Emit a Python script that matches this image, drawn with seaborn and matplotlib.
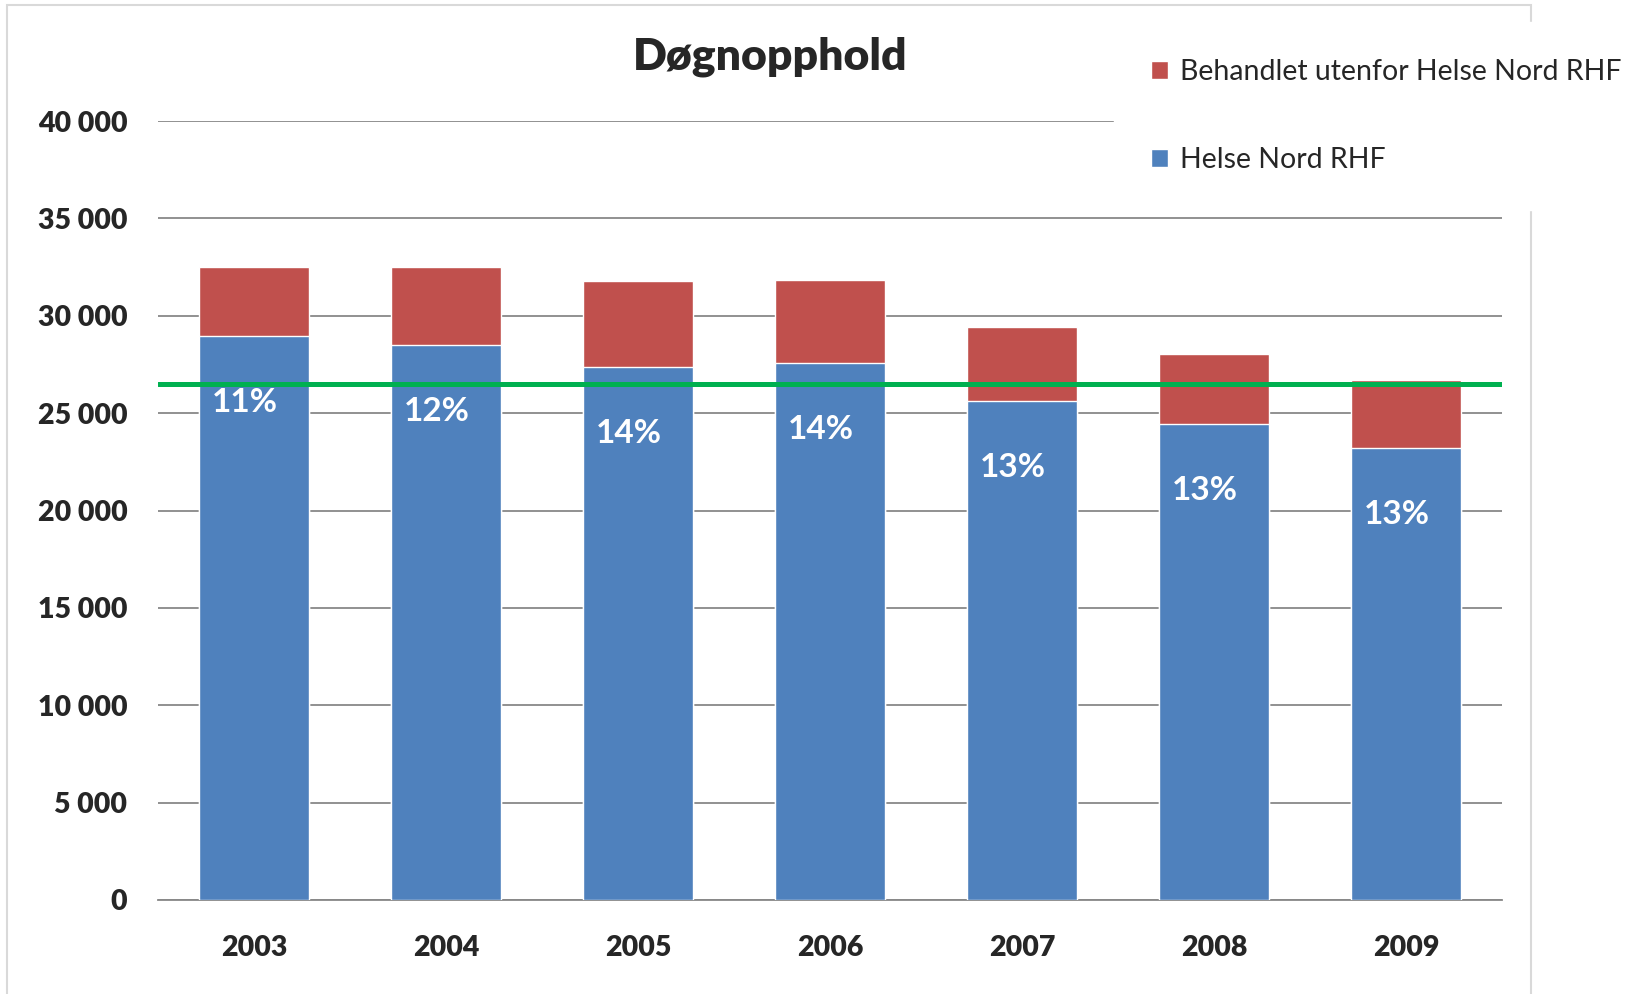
import numpy as np
import pandas as pd
import matplotlib.pyplot as plt
from matplotlib.patches import Patch, Rectangle
import seaborn as sns

# data
years = ['2003', '2004', '2005', '2006', '2007', '2008', '2009']
helse_nord = [28950, 28480, 27360, 27580, 25600, 24420, 23200]
utenfor = [3550, 4020, 4450, 4280, 3800, 3640, 3520]
pct_labels = ['11%', '12%', '14%', '14%', '13%', '13%', '13%']
target = 26500

RED = '#C0504D'
BLUE = '#4F81BD'
GREEN = '#00B050'

sns.set_theme(style='white')
plt.rcParams['font.family'] = ['Lato', 'DejaVu Sans']

df = pd.DataFrame({'year': years, 'helse': helse_nord, 'utenfor': utenfor})
df['total'] = df['helse'] + df['utenfor']

fig = plt.figure(figsize=(16.35, 9.94), dpi=100)
ax = fig.add_axes([158/1635, 94/994, (1502-158)/1635, (900-121)/994])

# stacked bars: total in red, blue on top of it
sns.barplot(data=df, x='year', y='total', color=RED, width=0.57, saturation=1, ax=ax, zorder=2)
sns.barplot(data=df, x='year', y='helse', color=BLUE, width=0.57, saturation=1, ax=ax, zorder=3)

ax.axhline(target, color=GREEN, lw=3.6, zorder=4)

for i, (lab, h) in enumerate(zip(pct_labels, df['helse'])):
    ax.text(i - 0.05, h - 3400, lab, color='white', fontsize=24, fontweight='bold',
            ha='center', va='center', zorder=5)

ax.set_ylim(0, 40000)
ax.set_xlim(-0.5, 6.5)
ax.set_yticks(np.arange(0, 40001, 5000))
ax.set_yticklabels([f'{v:,}'.replace(',', ' ') for v in range(0, 40001, 5000)])
ax.yaxis.grid(True, color='#888888', lw=1.3, zorder=0)
ax.set_axisbelow(True)
for s in ['left', 'right', 'top']:
    ax.spines[s].set_visible(False)
ax.spines['bottom'].set_color('#888888')
ax.spines['bottom'].set_linewidth(1.3)
ax.tick_params(axis='y', length=0, pad=22, labelsize=20.5)
ax.tick_params(axis='x', length=0, pad=25, labelsize=20.5)
for t in ax.get_xticklabels() + ax.get_yticklabels():
    t.set_fontweight('heavy')
ax.set_xlabel('')
ax.set_ylabel('')

fig.text(770/1635, 1 - 57/994, 'Døgnopphold', fontsize=32, fontweight='heavy',
         ha='center', va='center')

# light chart border
fig.patches.append(Rectangle((7/1635, -0.02), (1531-7)/1635, 1.02 - 5/994,
                             transform=fig.transFigure, fill=False,
                             edgecolor='#D9D9D9', lw=1.5, zorder=-1))

handles = [Patch(facecolor=RED, label='Behandlet utenfor Helse Nord RHF'),
           Patch(facecolor=BLUE, label='Helse Nord RHF')]
leg = fig.legend(handles=handles, loc='center left',
                 bbox_to_anchor=(1100/1635, 1 - 116/994),
                 fontsize=20.5, frameon=True, facecolor='white', edgecolor='white',
                 framealpha=1, fancybox=False, borderpad=1.3, labelspacing=2.2,
                 handlelength=0.6, handleheight=0.6, handletextpad=0.4)

fig.savefig('out.png', dpi=100, facecolor='white')
